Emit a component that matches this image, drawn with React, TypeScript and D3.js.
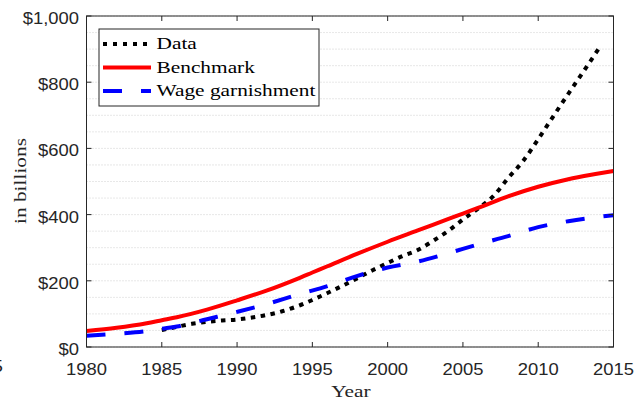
import React from "react";
import * as d3 from "d3";

// Years and values (billions of dollars)
const dataYears = [1985, 1986, 1987, 1988, 1989, 1990, 1991, 1992, 1993, 1994, 1995, 1996, 1997, 1998, 1999, 2000, 2001, 2002, 2003, 2004, 2005, 2006, 2007, 2008, 2009, 2010, 2011, 2012, 2013, 2014];
const dataValues = [51, 61, 70, 76, 80, 83, 89, 97, 108, 123, 142, 163, 185, 208, 232, 254, 275, 293, 320, 350, 385, 418, 455, 510, 562, 628, 697, 765, 832, 900];

const benchmarkYears = [1980, 1982, 1984, 1985, 1986, 1988, 1990, 1992, 1994, 1995, 1996, 1998, 2000, 2002, 2004, 2005, 2006, 2008, 2010, 2012, 2014, 2015];
const benchmarkValues = [48, 58, 72, 81, 90, 113, 141, 171, 206, 225, 244, 282, 318, 352, 386, 403, 420, 455, 484, 507, 524, 532];

const wageYears = [1980, 1982, 1984, 1985, 1986, 1988, 1990, 1992, 1994, 1996, 1998, 2000, 2002, 2004, 2006, 2008, 2010, 2012, 2014, 2015];
const wageValues = [34, 40, 48, 55, 62, 84, 106, 130, 158, 184, 215, 240, 258, 283, 310, 335, 362, 380, 393, 398];

const xTicks = [1980, 1985, 1990, 1995, 2000, 2005, 2010, 2015];
const yTicks = [0, 200, 400, 600, 800, 1000];
const yGrid = d3.range(0, 1001, 50);

const seriesNames = ["Data", "Benchmark", "Wage garnishment"];

const W = 637;
const H = 400;
const plot = { left: 86.5, right: 613.5, top: 16, bottom: 347 };

const SANS = "'Liberation Sans', Arial, Helvetica, sans-serif";
const SERIF = "'Liberation Serif', 'Times New Roman', serif";
const AX = "#262626";

type STextProps = {
  x: number;
  y: number;
  text: string;
  anchor?: "start" | "middle" | "end";
  size: number;
  family: string;
  stretch: number;
  rotate?: number;
  fill?: string;
};

// Text drawn with a horizontal stretch along its own direction
function SText({ x, y, text, anchor = "start", size, family, stretch, rotate = 0, fill = AX }: STextProps) {
  return (
    <text
      transform={`translate(${x},${y}) rotate(${rotate}) scale(${stretch},1)`}
      textAnchor={anchor}
      fontFamily={family}
      fontSize={size}
      fill={fill}
    >
      {text}
    </text>
  );
}

export default function App() {
  const x = d3.scaleLinear().domain([1980, 2015]).range([plot.left, plot.right]);
  const y = d3.scaleLinear().domain([0, 1000]).range([plot.bottom, plot.top]);

  const line = d3
    .line<[number, number]>()
    .x((d) => x(d[0]))
    .y((d) => y(d[1]))
    .curve(d3.curveMonotoneX);

  const zip = (a: number[], b: number[]) => a.map((v, i) => [v, b[i]] as [number, number]);

  const series = [
    { name: seriesNames[0], d: line(zip(dataYears, dataValues)), color: "#000000", dash: "4.5 5.5" },
    { name: seriesNames[1], d: line(zip(benchmarkYears, benchmarkValues)), color: "#ff0000", dash: undefined },
    { name: seriesNames[2], d: line(zip(wageYears, wageValues)), color: "#0000ff", dash: "19 19" },
  ];

  const fmt = d3.format("$,");
  const tickLen = 5;

  const legend = { x: 99, y: 29, w: 220, h: 77 };
  const rowY = [44, 67.5, 91];

  return (
    <svg width={W} height={H} style={{ position: "absolute", left: 0, top: 0, background: "#fff" }}>
      <defs>
        <clipPath id="plot-clip">
          <rect x={plot.left} y={plot.top} width={plot.right - plot.left} height={plot.bottom - plot.top} />
        </clipPath>
      </defs>
      <rect x={0} y={0} width={W} height={H} fill="#fff" />

      {/* dotted horizontal grid */}
      {yGrid.map((v) => (
        <line
          key={`g${v}`}
          x1={plot.left}
          x2={plot.right}
          y1={y(v)}
          y2={y(v)}
          stroke="#c4c4c4"
          strokeWidth={0.8}
          strokeDasharray="1 2"
        />
      ))}

      {/* series */}
      <g clipPath="url(#plot-clip)">
        {series.map((s) => (
          <path
            key={s.name}
            d={s.d ?? ""}
            fill="none"
            stroke={s.color}
            strokeWidth={4}
            strokeDasharray={s.dash}
            strokeLinecap="butt"
            strokeLinejoin="round"
          />
        ))}
      </g>

      {/* axes box */}
      <rect
        x={plot.left}
        y={plot.top}
        width={plot.right - plot.left}
        height={plot.bottom - plot.top}
        fill="none"
        stroke={AX}
        strokeWidth={1}
      />

      {/* x ticks, bottom and top */}
      {xTicks.map((t) => (
        <g key={`x${t}`}>
          <line x1={x(t)} x2={x(t)} y1={plot.bottom} y2={plot.bottom - tickLen} stroke={AX} />
          <line x1={x(t)} x2={x(t)} y1={plot.top} y2={plot.top + tickLen} stroke={AX} />
          <SText x={x(t)} y={375} text={String(t)} anchor="middle" size={16.3} family={SANS} stretch={1.13} />
        </g>
      ))}

      {/* y ticks, left and right */}
      {yTicks.map((t) => (
        <g key={`y${t}`}>
          <line x1={plot.left} x2={plot.left + tickLen} y1={y(t)} y2={y(t)} stroke={AX} />
          <line x1={plot.right} x2={plot.right - tickLen} y1={y(t)} y2={y(t)} stroke={AX} />
          <SText x={79} y={y(t) + 8} text={fmt(t)} anchor="end" size={16.3} family={SANS} stretch={1.13} />
        </g>
      ))}

      {/* label partly outside the left edge */}
      <SText x={3} y={372} text="5" anchor="end" size={17} family={SANS} stretch={1.13} fill="#222" />

      {/* axis titles */}
      <SText x={351} y={397} text="Year" anchor="middle" size={17.5} family={SERIF} stretch={1.22} />
      <SText x={26} y={181} text="in billions" anchor="middle" size={17.5} family={SERIF} stretch={1.22} rotate={-90} />

      {/* legend */}
      <rect x={legend.x} y={legend.y} width={legend.w} height={legend.h} fill="#fff" stroke={AX} strokeWidth={1} />
      {series.map((s, i) => (
        <g key={`l${s.name}`}>
          <line
            x1={103}
            x2={151}
            y1={rowY[i]}
            y2={rowY[i]}
            stroke={s.color}
            strokeWidth={4}
            strokeDasharray={s.name === "Data" ? "4 6" : s.dash}
          />
          <SText x={156.5} y={rowY[i] + 5} text={s.name} size={17.5} family={SERIF} stretch={1.22} fill="#000" />
        </g>
      ))}
    </svg>
  );
}
